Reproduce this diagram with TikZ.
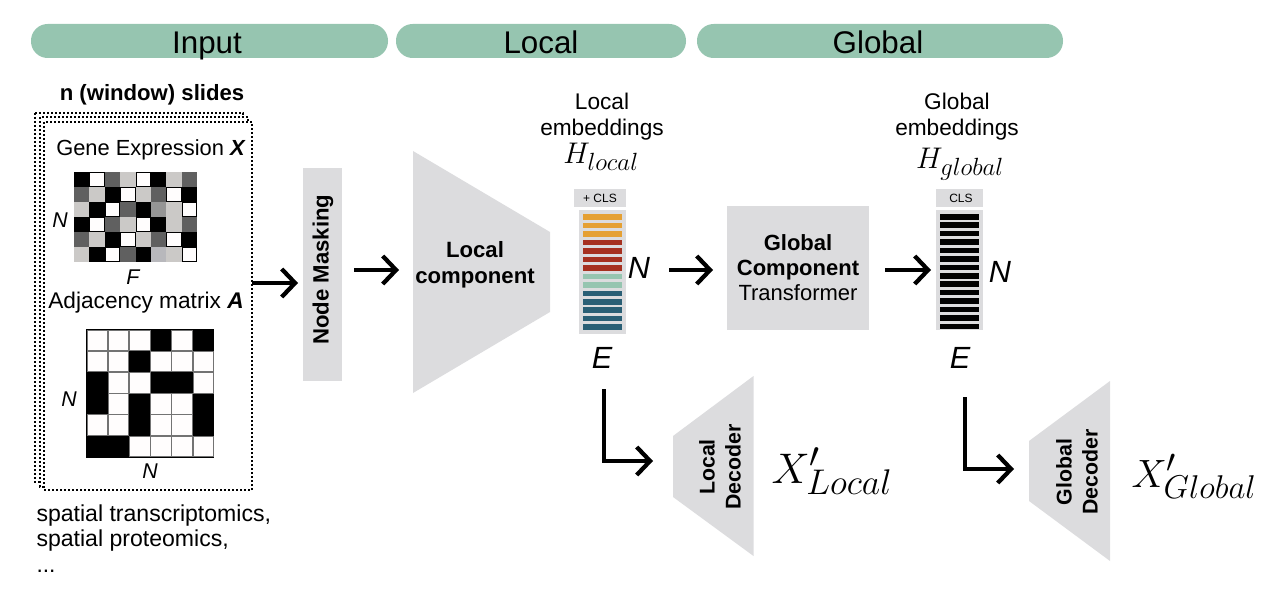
\documentclass[tikz,border=0pt]{standalone}
\usepackage{fontspec}
\setmainfont{Liberation Sans}
\usetikzlibrary{arrows.meta}

\definecolor{pillgreen}{RGB}{150,197,176}
\definecolor{panelgray}{RGB}{220,220,222}
\definecolor{barorange}{RGB}{229,160,51}
\definecolor{barred}{RGB}{166,49,32}
\definecolor{barblue}{RGB}{42,95,117}
\definecolor{cellk}{RGB}{0,0,0}
\definecolor{cellw}{RGB}{255,253,253}
\definecolor{celld}{RGB}{96,96,96}
\definecolor{celll}{RGB}{203,201,199}
\definecolor{cellm}{RGB}{149,149,149}
\definecolor{cellg}{RGB}{184,184,188}

\tikzset{every picture/.style={line width=0.75pt}}
\tikzset{
  pill/.style={fill=pillgreen,rounded corners=12.5pt},
  pilltext/.style={font=\fontsize{23.5}{26}\selectfont,anchor=base,inner sep=0pt},
  plaintext/.style={font=\fontsize{17}{19.5}\selectfont,align=center,inner sep=0pt},
  boldtext/.style={font=\fontsize{16.6}{19.5}\selectfont\bfseries,align=center,inner sep=0pt},
  smalltext/.style={font=\fontsize{9}{11}\selectfont,inner sep=0pt},
  dimtext/.style={font=\fontsize{16}{18}\selectfont\itshape,inner sep=0pt},
  bigdim/.style={font=\fontsize{23}{28}\selectfont\itshape,inner sep=0pt},
  mathlabel/.style={font=\fontsize{24.88}{28}\selectfont,anchor=base,inner sep=0pt,scale=0.9},
  mathbig/.style={font=\fontsize{24.88}{28}\selectfont,anchor=base west,inner sep=0pt},
  slideframe/.style={draw,fill=white,line width=1.5pt,dash pattern=on 1.5pt off 1.5pt},
  flow/.style={draw,line width=3.2pt,-{Straight Barb[length=10pt,width=21pt,line width=3.2pt]}},
}

\begin{document}
\begin{tikzpicture}[x=0.75pt,y=0.75pt,yscale=-1,xscale=1]
\useasboundingbox (0,0) rectangle (1272,592);

%Shape: Section bars
\fill [pill] (31,24) rectangle (388,58);
\fill [pill] (396,24) rectangle (686,58);
\fill [pill] (697,24) rectangle (1063,58);
\node [pilltext] (inputhead) at (207,54) {Input};
\node [pilltext] (localhead) at (541,54) {Local};
\node [pilltext] (globalhead) at (878,54) {Global};

% Text Node
\node [boldtext] (slides) at (152,95) {n (window) slides};

%Shape: Stacked slides
\draw [slideframe] (35,113) rectangle (243,482);
\draw [slideframe] (40,117) rectangle (248,487);
\draw [slideframe] (44,122) rectangle (252,490);

% Text Node
\node [plaintext,font=\fontsize{16.4}{19.5}\selectfont] (genelabel) at (151,150) {Gene Expression \textbf{\textit{X}}};
\node [plaintext] (adjlabel) at (146,303) {Adjacency matrix \textbf{\textit{A}}};

%Shape: Gene matrix
\foreach \rowcells [count=\j from 0] in {{k,w,d,l,w,k,l,d},{d,l,k,w,l,d,w,k},{l,k,w,d,k,m,l,w},{k,w,d,l,w,k,l,d},{d,l,k,w,l,d,w,k},{l,k,w,d,k,g,l,w}}{
  \foreach \c [count=\i from 0] in \rowcells{
    \fill [cell\c] ({74+\i*15.4},{172+\j*15}) rectangle ({74+(\i+1)*15.4},{172+(\j+1)*15});
    \if\c w
      \draw [black,line width=0.6pt] ({74.4+\i*15.4},{172.4+\j*15}) rectangle ({73.6+(\i+1)*15.4},{171.6+(\j+1)*15});
    \fi
  }
}

%Shape: Adjacency matrix
\fill [black] (86,329) rectangle (214,458);
\foreach \rowcells [count=\j from 0] in {{w,w,w,k,w,k},{w,w,k,w,w,w},{k,w,w,k,k,w},{k,w,k,w,w,k},{w,w,k,w,w,k},{k,k,w,w,w,w}}{
  \foreach \c [count=\i from 0] in \rowcells{
    \if\c k\else
      \draw [black!55,fill=cellw,line width=0.7pt] ({87+\i*21.2},{330+\j*21.2}) rectangle ({86.5+(\i+1)*21.2},{329.5+(\j+1)*21.2});
    \fi
  }
}

% Text Node
\node [dimtext] (geneN) at (60,220) {N};
\node [dimtext] (geneF) at (133,277) {F};
\node [dimtext] (adjNleft) at (69,399) {N};
\node [dimtext] (adjNbottom) at (150,471) {N};
\node [plaintext,font=\fontsize{17.3}{19.5}\selectfont,anchor=base west] (spatialone) at (36,521) {spatial transcriptomics,};
\node [plaintext,font=\fontsize{17.3}{19.5}\selectfont,anchor=base west] (spatialtwo) at (36,546) {spatial proteomics,};
\node [plaintext,anchor=base west] (spatialdots) at (36,572) {...};

%Shape: Node masking box
\node [fill=panelgray,minimum width=39*0.75pt,minimum height=213*0.75pt,inner sep=0pt] (mask) at (322.5,274.5) {};
\node [boldtext,rotate=90] (masklabel) at (323,269.5) {Node Masking};

%Shape: Local component
\fill [panelgray] (413,151) -- (550,232) -- (550,312) -- (413,393) -- cycle;
\node [boldtext] (localcomp) at (475,265) {Local\\component};

% Text Node
\node [plaintext] (localemb) at (602,117) {Local\\embeddings};
\node [mathlabel] (Hlocal) at (601,164) {$H_{local}$};

%Shape: Local bars
\node [fill=panelgray,minimum width=52*0.75pt,minimum height=18*0.75pt,inner sep=0pt] (localcls) at (600,198) {};
\node [smalltext] (localclstext) at (600,198) {+ CLS};
\fill [panelgray] (579,210) rectangle (626,334);
\foreach \n/\barcol in {0/barorange,1/barorange,2/barorange,3/barred,4/barred,5/barred,6/barred,7/pillgreen,8/pillgreen,9/barblue,10/barblue,11/barblue,12/barblue,13/barblue}{
  \fill [\barcol] (583,{214.2+\n*8.48}) rectangle (622,{219.7+\n*8.48});
}
\node [bigdim] (localN) at (639,268) {N};
\node [bigdim] (localE) at (602,358) {E};

%Shape: Global component box
\node [fill=panelgray,minimum width=142*0.75pt,minimum height=124*0.75pt,inner sep=0pt] (globalbox) at (798,268) {};
\node [boldtext,font=\fontsize{16.5}{18.75}\selectfont\bfseries] (globallabel) at (798,268) {Global\\Component\\{\mdseries Transformer}};

% Text Node
\node [plaintext] (globalemb) at (957,117) {Global\\embeddings};
\node [mathlabel] (Hglobal) at (960,169) {$H_{global}$};

%Shape: Global bars
\node [fill=panelgray,minimum width=47*0.75pt,minimum height=18*0.75pt,inner sep=0pt] (globalcls) at (959.5,198) {};
\node [smalltext] (globalclstext) at (961,198) {CLS};
\fill [panelgray] (936,210) rectangle (983,330);
\foreach \n in {0,...,13}{
  \fill [black] (940,{214+\n*8.43}) rectangle (979,{219.5+\n*8.43});
}
\node [bigdim] (globalN) at (1000,272) {N};
\node [bigdim] (globalE) at (960,358) {E};

%Shape: Local decoder
\fill [panelgray] (673,436) -- (753.5,376) -- (753.5,556) -- (673,497) -- cycle;
\node [boldtext,rotate=90,font=\fontsize{16}{19.5}\selectfont\bfseries] (localdec) at (720,467) {Local\\Decoder};
\node [mathbig,scale=1.29] (Xlocal) at (771,483) {$X'_{Local}$};

%Shape: Global decoder
\fill [panelgray] (1029,441) -- (1110,381) -- (1110,561) -- (1029,501) -- cycle;
\node [boldtext,rotate=90,font=\fontsize{16}{19.5}\selectfont\bfseries] (globaldec) at (1077,472) {Global\\Decoder};
\node [mathbig,scale=1.19] (Xglobal) at (1131,487) {$X'_{Global}$};

%Straight Lines: flow arrows
\coordinate (slidesout) at (252,283);
\coordinate (maskin) at (298,283);
\coordinate (maskout) at (354,270);
\coordinate (localin) at (399,270);
\coordinate (localout) at (669,270);
\coordinate (globalin) at (713,270);
\coordinate (globalout) at (885,270);
\coordinate (embin) at (931,270);
\coordinate (localdrop) at (604,389);
\coordinate (localdecin) at (653,461);
\coordinate (globaldrop) at (965,397);
\coordinate (globaldecin) at (1014,469);

\draw [flow] (slidesout) -- (maskin);
\draw [flow] (maskout) -- (localin);
\draw [flow] (localout) -- (globalin);
\draw [flow] (globalout) -- (embin);
\draw [flow] (localdrop) |- (localdecin);
\draw [flow] (globaldrop) |- (globaldecin);

\end{tikzpicture}
\end{document}
